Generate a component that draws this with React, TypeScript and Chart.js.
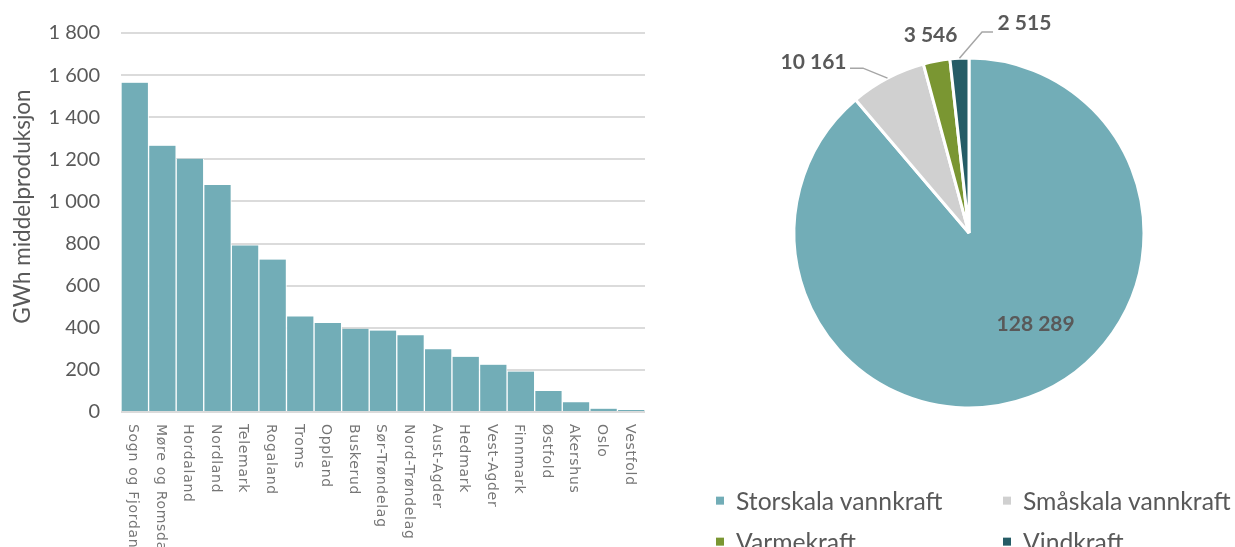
import { useEffect, useRef } from "react";
import { Chart, registerables } from "chart.js";

Chart.register(...registerables);

const regions = [
  "Sogn og Fjordane",
  "Møre og Romsdal",
  "Hordaland",
  "Nordland",
  "Telemark",
  "Rogaland",
  "Troms",
  "Oppland",
  "Buskerud",
  "Sør-Trøndelag",
  "Nord-Trøndelag",
  "Aust-Agder",
  "Hedmark",
  "Vest-Agder",
  "Finnmark",
  "Østfold",
  "Akershus",
  "Oslo",
  "Vestfold",
];
const regionValues = [
  1564, 1265, 1203, 1078, 791, 724, 454, 423, 395, 387, 365, 298, 262, 225, 192, 100, 46, 16, 9,
];
const yMin = 0;
const yMax = 1800;
const yStep = 200;
const yTitle = "GWh middelproduksjon";

const sourceLabels = ["Storskala vannkraft", "Småskala vannkraft", "Varmekraft", "Vindkraft"];
const sourceValues = [128289, 10161, 3546, 2515];
const sourceColors = ["#72ADB7", "#D0D0D0", "#7A9632", "#255C66"];

const BAR_COLOR = "#72ADB7";
const TEXT = "#595959";
const FONT = "Lato, 'Open Sans', sans-serif";

const fmt = (n: number) => String(n).replace(/\B(?=(\d{3})+(?!\d))/g, " ");

// label placement styles for pie (inside: fraction along slice + radius fraction; outside: offset from outer mid point)
const pieLabelStyles: any[] = [
  { mode: "inside", frac: 0.45, dist: 0.645 },
  { mode: "outside", dx: -74, dy: -15.5, line: [[-24.5, -10], [-37.5, -10]] },
  { mode: "outside", dx: -6, dy: -25.5, line: null },
  { mode: "outside", dx: 65, dy: -35, line: [[22.6, -26.3], [33.6, -26.3]] },
];

const xLabelPlugin = {
  id: "xLabelsRot",
  afterDraw(chart: any) {
    const { ctx, chartArea } = chart;
    const xs = chart.scales.x;
    ctx.save();
    ctx.fillStyle = "#767676";
    ctx.font = `14px 'DejaVu Sans', sans-serif`;
    try {
      (ctx as any).letterSpacing = "0.7px";
    } catch (e) {}
    ctx.textAlign = "left";
    ctx.textBaseline = "middle";
    regions.forEach((r, i) => {
      const x = xs.getPixelForValue(i);
      ctx.save();
      ctx.translate(x - 2, chartArea.bottom + 12);
      ctx.rotate(Math.PI / 2);
      ctx.fillText(r, 0, 0);
      ctx.restore();
    });
    ctx.restore();

    // y axis title
    ctx.save();
    ctx.fillStyle = TEXT;
    ctx.font = `22.5px ${FONT}`;
    ctx.textAlign = "center";
    ctx.textBaseline = "middle";
    ctx.translate(23, (chartArea.top + chartArea.bottom) / 2 - 16);
    ctx.rotate(-Math.PI / 2);
    ctx.fillText(yTitle, 0, 0);
    ctx.restore();
  },
};

const pieLabelPlugin = {
  id: "pieLabels",
  afterDatasetsDraw(chart: any) {
    const meta = chart.getDatasetMeta(0);
    const ctx = chart.ctx;
    ctx.save();
    ctx.font = `bold 21px ${FONT}`;
    ctx.fillStyle = TEXT;
    ctx.textAlign = "center";
    ctx.textBaseline = "middle";
    meta.data.forEach((arc: any, i: number) => {
      const { x, y, startAngle, endAngle, outerRadius } = arc.getProps(
        ["x", "y", "startAngle", "endAngle", "outerRadius"],
        true
      );
      const st = pieLabelStyles[i];
      const text = fmt(sourceValues[i]);
      if (st.mode === "inside") {
        const a = startAngle + (endAngle - startAngle) * st.frac;
        const r = outerRadius * st.dist;
        ctx.fillText(text, x + r * Math.cos(a), y + r * Math.sin(a));
      } else {
        const a = (startAngle + endAngle) / 2;
        const px = x + outerRadius * Math.cos(a);
        const py = y + outerRadius * Math.sin(a);
        if (st.line) {
          ctx.save();
          ctx.strokeStyle = "#a6a6a6";
          ctx.lineWidth = 1.5;
          ctx.beginPath();
          ctx.moveTo(px, py);
          st.line.forEach((p: number[]) => ctx.lineTo(px + p[0], py + p[1]));
          ctx.stroke();
          ctx.restore();
        }
        ctx.fillText(text, px + st.dx, py + st.dy);
      }
    });
    ctx.restore();
  },
};

export default function App() {
  const barRef = useRef<HTMLCanvasElement>(null);
  const pieRef = useRef<HTMLCanvasElement>(null);

  useEffect(() => {
    const bar = new Chart(barRef.current!, {
      type: "bar",
      data: {
        labels: regions,
        datasets: [
          {
            data: regionValues,
            backgroundColor: BAR_COLOR,
            borderColor: "#ffffff",
            borderWidth: { left: 1, right: 1, top: 0, bottom: 0 } as any,
            borderSkipped: false,
            barPercentage: 1,
            categoryPercentage: 1,
          },
        ],
      },
      options: {
        responsive: false,
        animation: false,
        devicePixelRatio: 1,
        layout: { padding: { top: 27, right: 15, left: 0, bottom: 0 } },
        plugins: { legend: { display: false }, tooltip: { enabled: false } },
        scales: {
          x: {
            grid: { display: false },
            border: { display: false },
            ticks: { display: false },
            afterFit: (s: any) => {
              s.height = 135;
            },
          },
          y: {
            min: yMin,
            max: yMax,
            ticks: {
              stepSize: yStep,
              color: TEXT,
              font: { family: FONT, size: 20 },
              padding: 21,
              callback: (v: any) => fmt(Number(v)),
            },
            grid: { color: "#dbdbdb", lineWidth: 2, drawTicks: false },
            border: { display: false },
            title: { display: false, text: yTitle },
            afterFit: (s: any) => {
              s.width = 121;
            },
          },
        },
      },
      plugins: [xLabelPlugin],
    });

    const pie = new Chart(pieRef.current!, {
      type: "pie",
      data: {
        labels: sourceLabels,
        datasets: [
          {
            data: sourceValues,
            backgroundColor: sourceColors,
            borderColor: "#ffffff",
            borderWidth: 3,
          },
        ],
      },
      options: {
        responsive: false,
        animation: false,
        devicePixelRatio: 1,
        layout: { padding: { left: 132.5, right: 89.5, top: 56.5, bottom: 137.5 } },
        plugins: { legend: { display: false }, tooltip: { enabled: false } },
      },
      plugins: [pieLabelPlugin],
    });

    return () => {
      bar.destroy();
      pie.destroy();
    };
  }, []);

  const colX = [716, 1003];
  const rowY = [500.5, 541.5];

  return (
    <div
      style={{
        position: "fixed",
        left: 0,
        top: 0,
        width: 1235,
        height: 547,
        background: "#ffffff",
        overflow: "hidden",
      }}
    >
      <canvas ref={barRef} width={660} height={547} style={{ position: "absolute", left: 0, top: 0 }} />
      <canvas ref={pieRef} width={575} height={547} style={{ position: "absolute", left: 660, top: 0 }} />
      {sourceLabels.map((lab, i) => {
        const col = i % 2;
        const row = Math.floor(i / 2);
        return (
          <div
            key={lab}
            style={{
              position: "absolute",
              left: colX[col],
              top: rowY[row],
              transform: "translateY(-50%)",
              display: "flex",
              alignItems: "center",
              whiteSpace: "nowrap",
              fontFamily: FONT,
              fontSize: 24.7,
              color: TEXT,
              lineHeight: 1,
            }}
          >
            <span
              style={{
                display: "inline-block",
                width: 8,
                height: 8,
                background: sourceColors[i],
                marginRight: 12,
              }}
            />
            <span>{lab}</span>
          </div>
        );
      })}
    </div>
  );
}
